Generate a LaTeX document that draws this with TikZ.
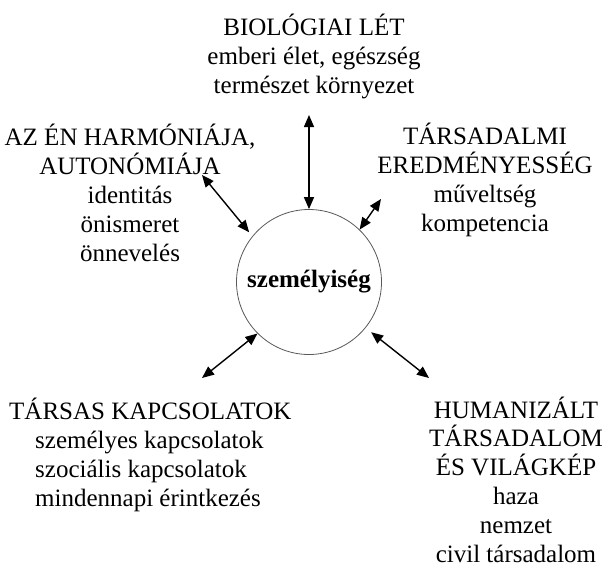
\documentclass[tikz,border=0pt]{standalone}
\usepackage{fontspec}
\setmainfont{Liberation Serif}
\usepackage{tikz}
\usetikzlibrary{arrows.meta}

\begin{document}
\begin{tikzpicture}[x=1pt,y=-1pt,font=\fontsize{25}{28.8}\selectfont,
  blk/.style={align=center,anchor=base,inner sep=0pt},
  lnk/.style={{Triangle[length=12pt,width=10pt]}-{Triangle[length=12pt,width=10pt]},line width=1.4pt}]
\useasboundingbox (0,0) rectangle (611,568);
\node[circle,draw=black!65,line width=0.8pt,minimum size=145pt,inner sep=0pt,font=\fontsize{25}{28.8}\selectfont\bfseries] (pers) at (309,282) {személyiség};
\node[blk] (bio) at (314,93) {BIOLÓGIAI LÉT\\emberi élet, egészség\\természet környezet};
\node[blk] (harm) at (130,261) {AZ ÉN HARMÓNIÁJA,\\AUTONÓMIÁJA\\identitás\\önismeret\\önnevelés};
\node[blk] (tars) at (485,231) {TÁRSADALMI\\EREDMÉNYESSÉG\\műveltség\\kompetencia};
\node[blk,align=left,anchor=base west] (kap) at (9,506) {TÁRSAS KAPCSOLATOK\\\hspace*{26pt}személyes kapcsolatok\\\hspace*{26pt}szociális kapcsolatok\\\hspace*{26pt}mindennapi érintkezés};
\node[blk] (hum) at (516,562) {HUMANIZÁLT\\TÁRSADALOM\\ÉS VILÁGKÉP\\haza\\nemzet\\civil társadalom};
\coordinate (bioEnd) at (309,115);
\coordinate (harmEnd) at (202,175);
\coordinate (tarsEnd) at (381,199);
\coordinate (kapEnd) at (202,378);
\coordinate (humEnd) at (429,378);
\foreach \e/\a/\s in {bioEnd/90/0,harmEnd/141/5,tarsEnd/46/0,kapEnd/225/0,humEnd/321/7}
  \draw[lnk,shorten >=\s pt] (\e) -- (pers.\a);
\end{tikzpicture}
\end{document}
